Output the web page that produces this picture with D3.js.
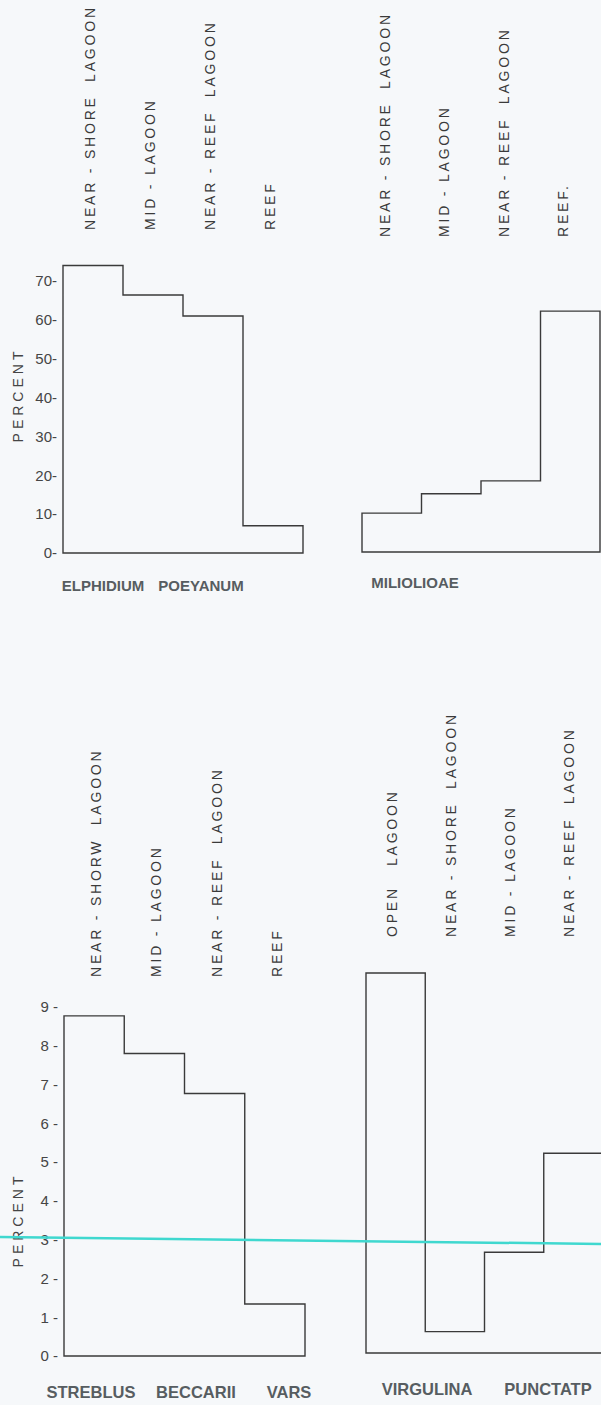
<!DOCTYPE html>
<html>
<head>
<meta charset="utf-8">
<script src="https://cdn.jsdelivr.net/npm/d3@7"></script>
<style>
body { margin: 0; background: #f6f8fa; }
svg { display: block; font-family: "Liberation Sans", Arial, sans-serif; }
.zone { font-size: 14px; letter-spacing: 2.8px; fill: #3a3a3a; white-space: pre; }
.axis text { font-size: 15px; fill: #454545; }
.ylabel { font-size: 14px; letter-spacing: 4px; fill: #454545; }
.title { font-weight: bold; fill: #575d61; }
.step { fill: none; stroke: #3a3a3a; stroke-width: 1.4; }
</style>
</head>
<body>
<svg id="chart" width="601" height="1405"></svg>
<script>
// zone labels written over each column
var zonesElphidium = ["NEAR - SHORE  LAGOON", "MID - LAGOON", "NEAR - REEF  LAGOON", "REEF"]
var zonesMiliolidae = ["NEAR - SHORE  LAGOON", "MID - LAGOON", "NEAR - REEF  LAGOON", "REEF."]
var zonesStreblus = ["NEAR - SHORW  LAGOON", "MID - LAGOON", "NEAR - REEF  LAGOON", "REEF"]
var zonesVirgulina = ["OPEN   LAGOON", "NEAR - SHORE  LAGOON", "MID - LAGOON", "NEAR - REEF  LAGOON"]

// percent of each zone
var valuesElphidium = [74, 66.4, 61, 7]
var valuesMiliolidae = [10, 15, 18.3, 62]
var valuesStreblus = [8.77, 7.8, 6.77, 1.34]
var valuesVirgulina = [9.8, 0.55, 2.6, 5.15]

var ticksTop = [0, 10, 20, 30, 40, 50, 60, 70]
var ticksBottom = [0, 1, 2, 3, 4, 5, 6, 7, 8, 9]

// highlighter stroke across the lower charts (left / right end, lower scale)
var markerLevel = [3.07, 2.89]

var svg = d3.select("#chart")

var panels = [
    { zones: zonesElphidium, values: valuesElphidium, xr: [63, 303], yd: [0, 70], yr: [553, 281],
      ticks: ticksTop, fmt: d => d + "-", zoneBottom: 230, zoneShift: -3, ylabelY: 395,
      titleY: 586, titleSize: 15, words: [["ELPHIDIUM", 103], ["POEYANUM", 201]] },
    { zones: zonesMiliolidae, values: valuesMiliolidae, xr: [362, 600], yd: [0, 70], yr: [552, 280],
      ticks: null, zoneBottom: 237, zoneShift: -7,
      titleY: 583, titleSize: 15, words: [["MILIOLIOAE", 415]] },
    { zones: zonesStreblus, values: valuesStreblus, xr: [64, 305], yd: [0, 9], yr: [1356, 1007],
      ticks: ticksBottom, fmt: d => d + " -", zoneBottom: 977, zoneShift: 2, ylabelY: 1220,
      titleY: 1392, titleSize: 16.5, words: [["STREBLUS", 91], ["BECCARII", 196], ["VARS", 289]] },
    { zones: zonesVirgulina, values: valuesVirgulina, xr: [366, 603], yd: [0, 9], yr: [1353, 1004],
      ticks: null, zoneBottom: 937, zoneShift: -4,
      titleY: 1389, titleSize: 16.5, words: [["VIRGULINA", 427], ["PUNCTATP", 548]] }
]

panels.forEach(function (p) {
    var x = d3.scaleLinear().domain([0, p.values.length]).range(p.xr)
    var y = d3.scaleLinear().domain(p.yd).range(p.yr)
    p.y = y

    // stepped outline
    var path = d3.path()
    path.moveTo(x(0), y(0))
    p.values.forEach(function (v, i) {
        path.lineTo(x(i), y(v))
        path.lineTo(x(i + 1), y(v))
    })
    path.lineTo(x(p.values.length), y(0))
    path.closePath()
    svg.append("path").attr("class", "step").attr("d", path.toString())

    // zone labels, rotated
    svg.append("g").selectAll("text")
        .data(p.zones)
        .enter().append("text")
        .attr("class", "zone")
        .attr("transform", (d, i) => "translate(" + (x(i + 0.5) + p.zoneShift) + "," + p.zoneBottom + ") rotate(-90)")
        .attr("dy", "0.36em")
        .text(d => d)

    if (p.ticks) {
        var ax = svg.append("g")
            .attr("class", "axis")
            .attr("transform", "translate(" + (p.xr[0] - 1) + ",0)")
            .call(d3.axisLeft(y).tickValues(p.ticks).tickSize(0).tickPadding(5).tickFormat(p.fmt))
        ax.select(".domain").remove()
        ax.attr("font-family", null).attr("font-size", null)

        svg.append("text")
            .attr("class", "ylabel")
            .attr("transform", "translate(18," + p.ylabelY + ") rotate(-90)")
            .attr("text-anchor", "middle")
            .attr("dy", "0.36em")
            .text("PERCENT")
    }

    svg.append("g").selectAll("text")
        .data(p.words)
        .enter().append("text")
        .attr("class", "title")
        .attr("x", d => d[1])
        .attr("y", p.titleY)
        .attr("dy", "0.36em")
        .attr("text-anchor", "middle")
        .style("font-size", p.titleSize + "px")
        .text(d => d[0])
})

// cyan highlighter line
var yLow = panels[2].y
svg.append("line")
    .attr("x1", 0).attr("x2", 601)
    .attr("y1", yLow(markerLevel[0])).attr("y2", yLow(markerLevel[1]))
    .attr("stroke", "#3fd8cf")
    .attr("stroke-width", 2.5)
</script>
</body>
</html>
